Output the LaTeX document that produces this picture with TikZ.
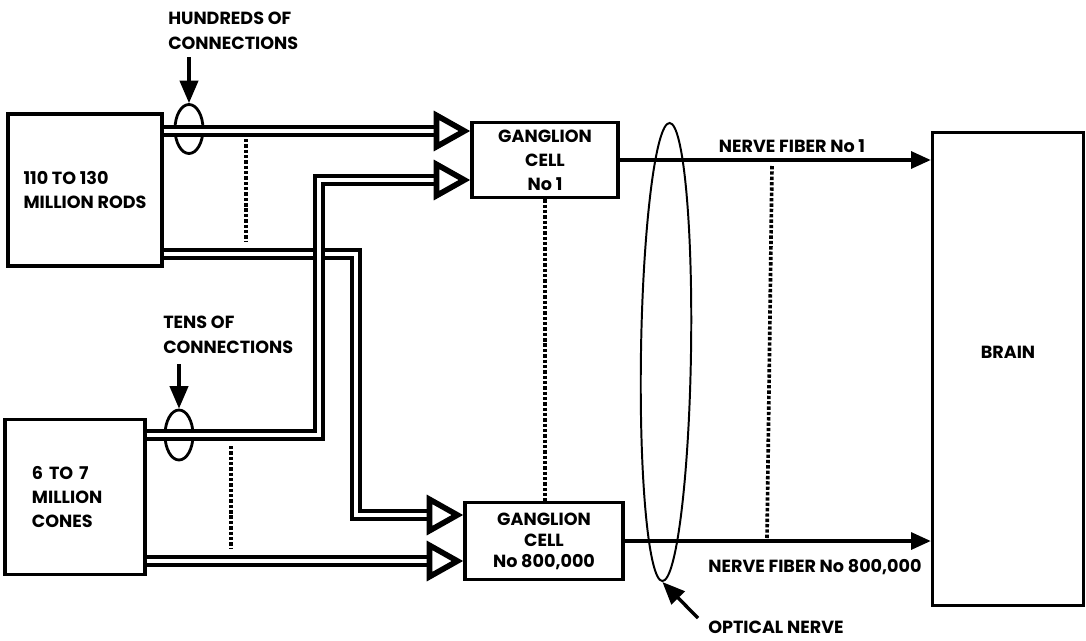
\documentclass[tikz,border=0pt]{standalone}
\usepackage{fontspec}
\setmainfont{Poppins}
\usepackage{tikz}
\usetikzlibrary{shapes.geometric, arrows.meta, positioning, calc}
\tikzset{
  cellbox/.style={rectangle, draw, line width=2.4pt, align=center, font=\bfseries\fontsize{12.5}{17}\selectfont},
  ring/.style={ellipse, draw, line width=2pt, inner sep=0pt},
  pipe/.style={double=white, double distance=3.4pt, line width=2.4pt, -{Triangle[open, length=26pt, width=28pt, line width=4pt]}},
  fiber/.style={line width=2.4pt, -{Triangle[length=14pt, width=12pt]}},
  callout/.style={line width=2.4pt, -{Triangle[length=16pt, width=13pt]}},
  dots/.style={line width=2.6pt, dash pattern=on 2.4pt off 1.4pt},
  note/.style={align=left, font=\bfseries\fontsize{12.5}{17.5}\selectfont, inner sep=0pt},
}

\begin{document}
\begin{tikzpicture}[x=0.025cm, y=-0.025cm]
\useasboundingbox (0,0) rectangle (1086,640);
\node (rods)  [cellbox, minimum width=3.85cm, minimum height=3.8cm, align=left] at (85,190) {110 TO 130\\MILLION RODS};
\node (cones) [cellbox, minimum width=3.5cm, minimum height=3.875cm, text width=2.15cm, align=left] at (75,497) {6 TO 7\\MILLION\\CONES};
\node (g1)    [cellbox, minimum width=3.65cm, minimum height=1.875cm] at (545,160) {GANGLION\\CELL\\No 1};
\node (g800)  [cellbox, minimum width=3.95cm, minimum height=1.925cm, font=\bfseries\fontsize{12.5}{15}\selectfont] at (544,541) {GANGLION\\CELL\\No 800,000};
\node (brain) [cellbox, minimum width=3.775cm, minimum height=11.825cm] at (1008,369) {BRAIN\\[0.25cm]};
% bundles of connections
\node (hring) [ring, minimum width=0.7cm, minimum height=1.225cm] at (189,129) {};
\node (tring) [ring, minimum width=0.7cm, minimum height=1.25cm] at (179,435) {};
\node (optic) [ring, line width=1.4pt, minimum width=1.25cm, minimum height=11.45cm, rotate=-0.9] at (666,352) {};
% labels
\node (hlabel) [note, anchor=north west] at (168,12) {HUNDREDS OF\\CONNECTIONS};
\node (tlabel) [note, anchor=north west] at (163,316) {TENS OF\\CONNECTIONS};
\node (olabel) [note, anchor=west] at (708,627) {OPTICAL NERVE};
\node (f1label) [note] at (792,146) {NERVE FIBER No 1};
\node (f8label) [note] at (815,567) {NERVE FIBER No 800,000};
\coordinate (hfrom) at (189,57);
\coordinate (tfrom) at (179,364);
\coordinate (ofrom) at (698,618);
% pipes
\draw[pipe] (rods.east |- 0,254) -- (356,254) -- (356,515) -- (g800.west |- 0,515);
\draw[pipe] (cones.east |- 0,435) -- (319,435) -- (319,180) -- (g1.west |- 0,180);
\draw[pipe] (rods.east |- 0,131) -- (g1.west |- 0,131);
\draw[pipe] (cones.east |- 0,561) -- (g800.west |- 0,561);
% nerve fibers
\draw[fiber] (g1.east) -- (brain.west |- g1.east);
\draw[fiber] (g800.east) -- (brain.west |- g800.east);
% callouts
\draw[callout] (hfrom) -- (hring.north);
\draw[callout] (tfrom) -- (tring.north);
\draw[callout] (ofrom) -- (optic.south);
% dots
\draw[dots] (246,139) -- (246,242);
\draw[dots] (231,446) -- (231,548);
\draw[dots] (g1.south -| 545,0) -- (g800.north -| 545,0);
\draw[dots] (772,166) -- (767,538);
\end{tikzpicture}
\end{document}
